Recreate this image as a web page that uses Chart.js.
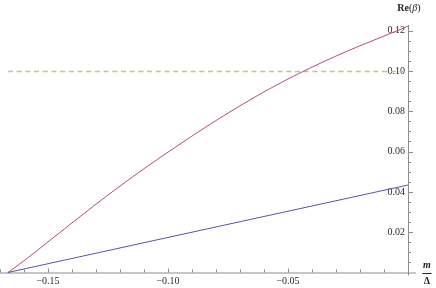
<!DOCTYPE html>
<html>
<head>
<meta charset="utf-8">
<script src="https://cdn.jsdelivr.net/npm/chart.js@4.4.0/dist/chart.umd.min.js"></script>
<style>
  html, body { margin: 0; padding: 0; background: #fff; }
</style>
</head>
<body>
<canvas id="plot" width="436" height="288"></canvas>
<script>
// values, x is m/Δ
const xRed = [-0.1667, -0.16, -0.15, -0.14, -0.13, -0.12, -0.11, -0.10, -0.09, -0.08, -0.07, -0.06, -0.05, -0.04, -0.03, -0.02, -0.01, 0];
const yRed = [0, 0.0058, 0.0152, 0.0246, 0.0339, 0.0429, 0.0515, 0.0597, 0.0677, 0.0754, 0.0827, 0.0896, 0.0960, 0.1019, 0.1074, 0.1125, 0.1173, 0.1222];
const xBlue = [-0.1667, -0.10, -0.05, 0];
const yBlue = [0, 0.0174, 0.0304, 0.0434];
const xDash = [-0.1667, 0];
const yDash = [0.0997, 0.0997];
const xTicks = [-0.15, -0.10, -0.05];
const yTicks = [0.02, 0.04, 0.06, 0.08, 0.10, 0.12];

const axisColor = '#8c8c8c';
const textColor = '#2a2a2a';
const serif = '"Liberation Serif", "DejaVu Serif", serif';

const pts = (xs, ys) => xs.map((x, i) => ({ x: x, y: ys[i] }));

// Mathematica style axes: lines crossing at the origin, ticks pointing inward
const axesPlugin = {
    id: 'axes',
    beforeDatasetsDraw(chart) {
        const ctx = chart.ctx;
        const xs = chart.scales.x, ys = chart.scales.y;
        const x0 = xs.getPixelForValue(0);
        const y0 = ys.getPixelForValue(0);
        ctx.save();
        ctx.strokeStyle = axisColor;
        ctx.lineWidth = 1;
        ctx.beginPath();
        ctx.moveTo(chart.chartArea.left, y0 + 0.5);
        ctx.lineTo(x0 + 8, y0 + 0.5);
        ctx.moveTo(x0 + 0.5, chart.chartArea.top);
        ctx.lineTo(x0 + 0.5, y0 + 3);
        // x ticks every 0.01, longer at labelled ones
        for (let i = -17; i < 0; i++) {
            const px = Math.round(xs.getPixelForValue(i / 100)) + 0.5;
            const len = (i % 5 === 0) ? 4 : 3;
            ctx.moveTo(px, y0);
            ctx.lineTo(px, y0 - len);
        }
        // y ticks every 0.005
        for (let j = 1; j <= 24; j++) {
            const py = Math.round(ys.getPixelForValue(j * 0.005)) + 0.5;
            const len = (j % 4 === 0) ? 5 : 3;
            ctx.moveTo(x0, py);
            ctx.lineTo(x0 + len, py);
        }
        ctx.stroke();
        ctx.restore();
    },
    afterDraw(chart) {
        const ctx = chart.ctx;
        const xs = chart.scales.x, ys = chart.scales.y;
        const x0 = xs.getPixelForValue(0);
        const y0 = ys.getPixelForValue(0);
        ctx.save();
        ctx.fillStyle = '#222';
        ctx.textBaseline = 'middle';
        // y axis label Re(β)
        const parts = [['Re', 'bold 10px ' + serif], ['(', '10px ' + serif], ['β', 'italic 10px ' + serif], [')', '10px ' + serif]];
        let w = 0;
        parts.forEach(p => { ctx.font = p[1]; w += ctx.measureText(p[0]).width; });
        let cx = x0 - w / 2 + 1;
        parts.forEach(p => { ctx.font = p[1]; ctx.textAlign = 'left'; ctx.fillText(p[0], cx, 8); cx += ctx.measureText(p[0]).width; });
        // x axis label m / Δ
        const fx = x0 + 19;
        ctx.textAlign = 'center';
        ctx.font = 'bold italic 10px ' + serif;
        ctx.fillText('m', fx, y0 - 7);
        ctx.font = 'bold 10px ' + serif;
        ctx.fillText('Δ', fx, y0 + 9);
        ctx.strokeStyle = '#222';
        ctx.lineWidth = 1;
        ctx.beginPath();
        ctx.moveTo(fx - 4.5, y0 + 1);
        ctx.lineTo(fx + 4.5, y0 + 1);
        ctx.stroke();
        ctx.restore();
    }
};

new Chart(document.getElementById('plot'), {
    type: 'line',
    data: {
        datasets: [
            {
                data: pts(xBlue, yBlue),
                borderColor: '#5454ae',
                borderWidth: 1,
                pointRadius: 0,
                clip: 4
            },
            {
                data: pts(xRed, yRed),
                borderColor: '#b04c88',
                borderWidth: 1,
                pointRadius: 0,
                cubicInterpolationMode: 'monotone',
                clip: 4
            },
            {
                data: pts(xDash, yDash),
                borderColor: '#cbbf8a',
                borderWidth: 1.6,
                borderDash: [5, 3.7],
                pointRadius: 0,
                clip: 4
            }
        ]
    },
    options: {
        responsive: false,
        animation: false,
        layout: { padding: { top: 25, left: 0, right: 0, bottom: 0 } },
        plugins: { legend: { display: false }, tooltip: { enabled: false } },
        scales: {
            x: {
                type: 'linear',
                position: 'bottom',
                min: -0.17,
                max: 0,
                grid: { display: false, drawTicks: false },
                border: { display: false },
                afterBuildTicks: s => { s.ticks = xTicks.map(v => ({ value: v })); },
                afterFit: s => { s.height = 15.5; },
                ticks: {
                    padding: 3,
                    maxRotation: 0,
                    color: textColor,
                    font: { family: serif, size: 10 },
                    callback: v => (v < 0 ? '\u2212' : '') + Math.abs(v).toFixed(2)
                }
            },
            y: {
                type: 'linear',
                position: 'right',
                min: 0,
                max: 0.1228,
                grid: { display: false, drawTicks: false },
                border: { display: false },
                afterBuildTicks: s => { s.ticks = yTicks.map(v => ({ value: v })); },
                afterFit: s => { s.width = 28; },
                ticks: {
                    mirror: true,
                    padding: -3,
                    color: textColor,
                    font: { family: serif, size: 10 },
                    callback: v => v.toFixed(2)
                }
            }
        }
    },
    plugins: [axesPlugin]
});
</script>
</body>
</html>
